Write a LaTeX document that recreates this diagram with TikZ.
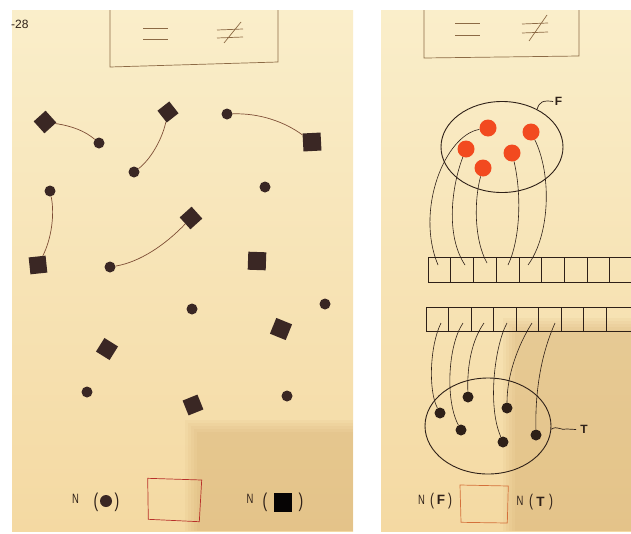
\documentclass[tikz,border=0pt]{standalone}
\usepackage{fontspec}
\setmainfont{Liberation Sans}
\newfontfamily\narrowsf[FakeStretch=0.7]{Liberation Sans}
\usetikzlibrary{shapes.geometric}
\definecolor{pagetop}{HTML}{FAEECA}
\definecolor{pagebot}{HTML}{F4D9A2}
\definecolor{shadowc}{HTML}{C99A58}
\definecolor{ink}{HTML}{3A2724}
\definecolor{linkc}{HTML}{7E4E36}
\definecolor{boxc}{HTML}{8C6A45}
\definecolor{fred}{HTML}{F24A1F}
\definecolor{wire}{HTML}{2E2018}
\definecolor{redbox}{HTML}{B8302A}
\definecolor{orangebox}{HTML}{D4703A}
\begin{document}
\begin{tikzpicture}[x=1pt,y=-1pt,
  sqr/.style={fill=ink, draw=none, rectangle, inner sep=0pt, minimum size=#1},
  sqr/.default=16,
  dotl/.style={fill=ink, draw=none, circle, inner sep=0pt, minimum size=11},
  fdot/.style={fill=fred, draw=none, circle, inner sep=0pt, minimum size=17},
  tdot/.style={fill=wire, draw=none, circle, inner sep=0pt, minimum size=11},
  link/.style={draw=linkc, line width=0.7pt},
  wireline/.style={draw=wire, line width=0.6pt},
  frame/.style={draw=boxc, line width=0.7pt},
  setline/.style={draw=wire, line width=0.9pt},
  nlab/.style={inner sep=0pt, text=wire},
]
\useasboundingbox (0,0) rectangle (631,533);
% pages
\fill[white] (0,0) rectangle (631,533);
\shade[top color=pagetop, bottom color=pagebot] (12,10) rectangle (353,531);
\shade[top color=pagetop, bottom color=pagebot] (381,10) rectangle (631,531);
% shadows
\foreach \i in {0,1,2,3,4} {
  \fill[shadowc, opacity=0.07] (197-3*\i,432-3*\i) rectangle (353,531);
  \fill[shadowc, opacity=0.07] (515-3*\i,330-3*\i) rectangle (631,531);
}

% ---------- left page ----------
\node[anchor=west, nlab, font=\fontsize{12}{12}\selectfont] (pg) at (11,24) {-28};
\draw[frame] (110,10) -- (110,67) -- (278,62) -- (278,10);
\draw[frame] (143,28) -- (168,28) (143,39) -- (168,39);
\draw[frame] (217,30) -- (243,29) (217,38) -- (243,37) (241,22) -- (224,43);

\node[sqr=16, rotate=42] (s1) at (45,122) {};
\node[sqr=15, rotate=38] (s2) at (168,112) {};
\node[dotl] (c3) at (227,114) {};
\node[sqr=18, rotate=3] (s4) at (312,142) {};
\node[dotl] (c5) at (99,143) {};
\node[dotl] (c6) at (134,172) {};
\node[dotl] (c7) at (50,191) {};
\node[dotl] (c8) at (265,187) {};
\node[sqr=16, rotate=42] (s9) at (191,218) {};
\node[sqr=17, rotate=6] (s10) at (38,265) {};
\node[dotl] (c11) at (110,267) {};
\node[sqr=18, rotate=-2] (s12) at (257,261) {};
\node[dotl] (c13) at (192,309) {};
\node[dotl] (c14) at (325,304) {};
\node[sqr=16, rotate=58] (s15) at (107,349) {};
\node[sqr=17, rotate=-22] (s16) at (281,329) {};
\node[dotl] (c17) at (87,392) {};
\node[sqr=16, rotate=22] (s18) at (193,405) {};
\node[dotl] (c19) at (287,396) {};

\draw[link] (s1) .. controls (72,126) and (85,131) .. (c5);
\draw[link] (s2) .. controls (162,140) and (150,160) .. (c6);
\draw[link] (c3) .. controls (260,113) and (285,122) .. (s4);
\draw[link] (c7) .. controls (55,215) and (51,240) .. (s10);
\draw[link] (c11) .. controls (140,262) and (165,245) .. (s9);

% bottom labels left
\node[nlab, font=\narrowsf\fontsize{13.5}{13.5}\selectfont] (ln1) at (75.5,499) {N};
\node[nlab, font=\narrowsf\fontsize{20}{20}\selectfont] (lo1) at (96,502.5) {(};
\node[dotl, minimum size=12] (ld1) at (106,501) {};
\node[nlab, font=\narrowsf\fontsize{20}{20}\selectfont] (lc1) at (117,502.5) {)};
\draw[draw=redbox, line width=0.7pt] (147.7,478.3) -- (201.7,480) -- (199.3,521.7) -- (148.3,519.3) -- cycle;
\node[nlab, font=\narrowsf\fontsize{13.5}{13.5}\selectfont] (ln2) at (250,499) {N};
\node[nlab, font=\narrowsf\fontsize{20}{20}\selectfont] (lo2) at (265,502.5) {(};
\node[fill=black!90!ink, rectangle, inner sep=0pt, minimum width=18, minimum height=19] (lq2) at (283,502.5) {};
\node[nlab, font=\narrowsf\fontsize{20}{20}\selectfont] (lc2) at (301,502.5) {)};

% ---------- right page ----------
\draw[frame] (424,10) -- (424,58) -- (579,56) -- (579,10);
\draw[frame] (455,23) -- (480,23) (455,35) -- (480,35);
\draw[frame] (522,24) -- (548,23) (522,33) -- (548,32) (547,15) -- (529,41);

% set F
\node[ellipse, setline, minimum width=122, minimum height=91, inner sep=0pt] (Fset) at (502,147) {};
\node[nlab, font=\bfseries\fontsize{12}{12}\selectfont] (Flab) at (558.5,101.5) {F};
\draw[setline, line width=0.7pt] (Fset.47) .. controls (539,102) and (543,100) .. ([xshift=-1.5pt]Flab.west);

\node[fdot] (fa) at (488,128) {};
\node[fdot] (fb) at (531,132) {};
\node[fdot] (fc) at (466,149) {};
\node[fdot] (fd) at (512,153) {};
\node[fdot] (fe) at (483,168) {};

% bars
\draw[wireline] (428,257) rectangle (645,282);
\foreach \k in {1,...,8} \draw[wireline] (428+22.7*\k,257) -- (428+22.7*\k,282);
\draw[wireline] (426,307) rectangle (645,331);
\foreach \k in {1,...,8} \draw[wireline] (426+22.5*\k,307) -- (426+22.5*\k,331);

\coordinate (u1) at (438,265);
\coordinate (u2) at (465,265);
\coordinate (u3) at (487,263);
\coordinate (u4) at (508,265);
\coordinate (u5) at (528,265);
\draw[wireline] (fa) .. controls (445,135) and (415,210) .. (u1);
\draw[wireline] (fc) .. controls (452,185) and (445,235) .. (u2);
\draw[wireline] (fe) .. controls (474,200) and (474,240) .. (u3);
\draw[wireline] (fd) .. controls (522,195) and (520,240) .. (u4);
\draw[wireline] (fb) .. controls (552,175) and (550,235) .. (u5);

% set T
\node[ellipse, setline, minimum width=126, minimum height=96, inner sep=0pt] (Tset) at (488,426) {};
\node[nlab, font=\bfseries\fontsize{12}{12}\selectfont] (Tlab) at (584,429.5) {T};
\draw[setline, line width=0.7pt] (Tset.-3) .. controls (557,425) and (561,431) .. (567,429) -- ([xshift=-4pt]Tlab.west);

\node[tdot] (d1) at (440,413) {};
\node[tdot] (d2) at (468,397) {};
\node[tdot] (d3) at (461,430) {};
\node[tdot] (d4) at (507,408) {};
\node[tdot] (d5) at (503,442) {};
\node[tdot] (d6) at (536,435) {};

\coordinate (v1) at (441,323);
\coordinate (v2) at (463,323);
\coordinate (v3) at (484,323);
\coordinate (v4) at (507,323);
\coordinate (v5) at (532,323);
\coordinate (v6) at (555,323);
\draw[wireline] (v1) .. controls (430,345) and (428,390) .. (d1);
\draw[wireline] (v2) .. controls (448,345) and (445,400) .. (d3);
\draw[wireline] (v3) .. controls (472,340) and (467,365) .. (d2);
\draw[wireline] (v4) .. controls (495,345) and (487,405) .. (d5);
\draw[wireline] (v5) .. controls (518,345) and (507,375) .. (d4);
\draw[wireline] (v6) .. controls (543,350) and (535,385) .. (d6);

% bottom labels right
\node[nlab, font=\narrowsf\fontsize{13.5}{13.5}\selectfont] (rn1) at (421.5,500) {N};
\node[nlab, font=\narrowsf\fontsize{17}{17}\selectfont] (ro1) at (432,501.5) {(};
\node[nlab, font=\bfseries\fontsize{13.5}{13.5}\selectfont] (rf) at (441,500) {F};
\node[nlab, font=\narrowsf\fontsize{17}{17}\selectfont] (rc1) at (450,501.5) {)};
\draw[draw=orangebox, line width=0.7pt] (460,485) -- (508.3,486) -- (507.3,523) -- (461,522.3) -- cycle;
\node[nlab, font=\narrowsf\fontsize{13.5}{13.5}\selectfont] (rn2) at (520,501) {N};
\node[nlab, font=\narrowsf\fontsize{17}{17}\selectfont] (ro2) at (531,502.5) {(};
\node[nlab, font=\bfseries\fontsize{13.5}{13.5}\selectfont] (rt) at (540.5,502) {T};
\node[nlab, font=\narrowsf\fontsize{17}{17}\selectfont] (rc2) at (551,502.5) {)};
\end{tikzpicture}
\end{document}
